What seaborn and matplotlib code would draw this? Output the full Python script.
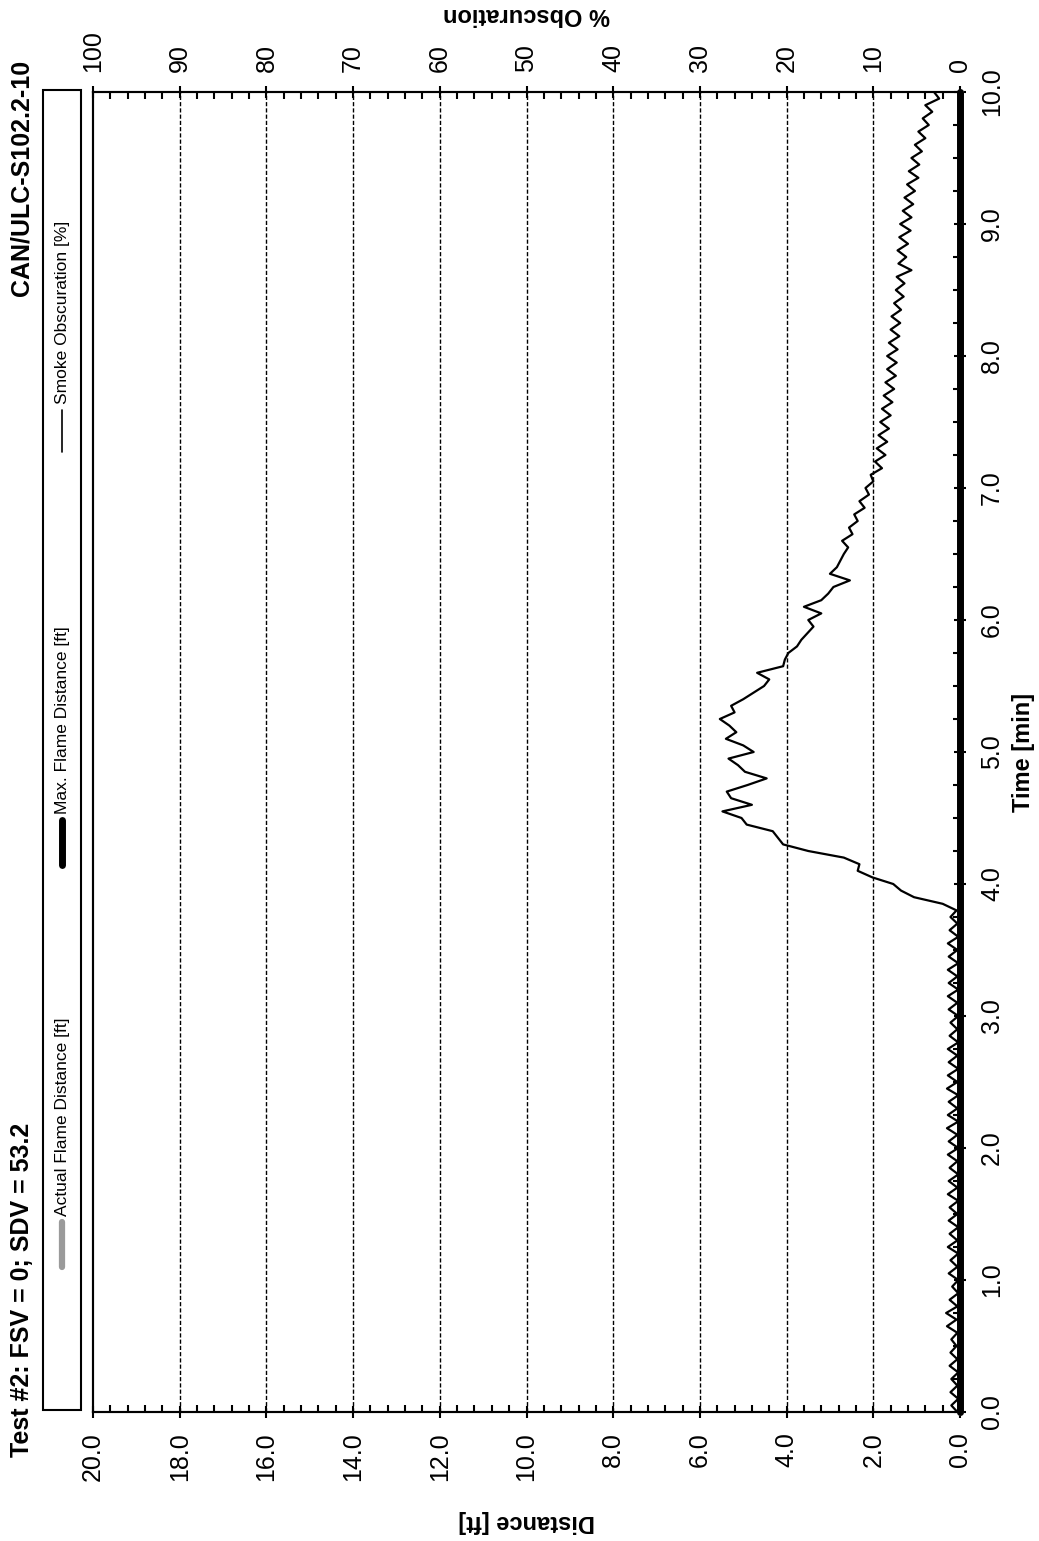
import numpy as np
import pandas as pd
import matplotlib
matplotlib.use("Agg")
import matplotlib.pyplot as plt
import seaborn as sns
from matplotlib.lines import Line2D
from matplotlib.patches import Rectangle
from matplotlib.ticker import MultipleLocator

# Datos: obscuración de humo [%] cada 0.05 min (una lista por minuto)
obsc_min0 = [0.3, 1.0, 0.2, 1.1, 0.3, 1.0, 0.2, 1.2, 0.3, 1.1, 0.4, 1.0, 0.3, 1.5, 0.4, 1.6, 0.3, 1.2, 0.2, 0.9]
obsc_min1 = [0.2, 1.3, 0.3, 1.1, 0.2, 1.4, 0.3, 1.2, 0.2, 1.3, 0.3, 1.2, 0.2, 1.4, 0.3, 1.3, 0.2, 1.2, 0.3, 1.4]
obsc_min2 = [0.2, 1.3, 0.3, 1.5, 0.2, 1.4, 0.3, 1.3, 0.2, 1.5, 0.3, 1.4, 0.2, 1.3, 0.3, 1.4, 0.2, 1.2, 0.3, 1.1]
obsc_min3 = [0.2, 1.3, 0.3, 1.4, 0.2, 1.3, 0.3, 1.4, 0.2, 1.3, 0.3, 1.4, 0.2, 1.2, 0.3, 1.1, 0.4, 2.0, 5.3, 6.8]
obsc_min4 = [7.7, 10.1, 11.8, 11.6, 13.4, 17.5, 20.4, 21.0, 21.6, 24.6, 25.2, 27.4, 24.0, 26.4, 26.9, 24.5, 22.3, 24.8, 25.6, 26.7]
obsc_min5 = [23.8, 25.0, 27.0, 25.8, 26.6, 27.7, 26.0, 26.4, 25.0, 23.8, 22.6, 22.0, 23.4, 20.4, 20.2, 19.8, 18.8, 18.3, 17.6, 16.9]
obsc_min6 = [17.5, 16.0, 18.0, 16.0, 15.2, 14.6, 12.7, 15.0, 14.2, 13.8, 13.4, 12.9, 13.6, 12.4, 12.8, 11.8, 12.2, 11.0, 11.6, 10.5]
obsc_min7 = [10.9, 10.0, 10.3, 9.0, 9.8, 8.6, 9.6, 8.4, 9.4, 8.2, 9.2, 8.0, 9.0, 7.8, 8.8, 7.6, 8.6, 7.4, 8.4, 7.3]
obsc_min8 = [8.4, 7.2, 8.2, 7.0, 8.0, 6.9, 7.9, 6.8, 7.6, 6.5, 7.4, 6.4, 7.3, 5.6, 7.1, 6.2, 7.2, 6.0, 7.0, 5.7]
obsc_min9 = [6.9, 5.6, 6.6, 5.4, 6.4, 5.2, 6.1, 4.8, 5.9, 4.7, 5.6, 4.4, 5.2, 4.0, 4.8, 3.6, 4.3, 3.2, 4.0, 2.4]
obsc_min10 = [3.0]

smoke = (obsc_min0 + obsc_min1 + obsc_min2 + obsc_min3 + obsc_min4 + obsc_min5
         + obsc_min6 + obsc_min7 + obsc_min8 + obsc_min9 + obsc_min10)
time_min = np.round(np.arange(len(smoke)) * 0.05, 2)

# Distancia de llama (constante en 0)
flame_time = [0.0, 10.0]
actual_flame = [0.0, 0.0]
max_flame = [0.0, 0.0]

dist_ticks = [0, 2, 4, 6, 8, 10, 12, 14, 16, 18, 20]
dist_labels = ["0.0", "2.0", "4.0", "6.0", "8.0", "10.0", "12.0", "14.0", "16.0", "18.0", "20.0"]
obsc_ticks = [0, 10, 20, 30, 40, 50, 60, 70, 80, 90, 100]
obsc_labels = ["0", "10", "20", "30", "40", "50", "60", "70", "80", "90", "100"]
time_ticks = [0, 1, 2, 3, 4, 5, 6, 7, 8, 9, 10]
time_labels = ["0.0", "1.0", "2.0", "3.0", "4.0", "5.0", "6.0", "7.0", "8.0", "9.0", "10.0"]

df_smoke = pd.DataFrame({"time": time_min, "obsc": smoke})
df_flame = pd.DataFrame({"time": flame_time, "actual": actual_flame, "max": max_flame})

sns.set_style("white")
plt.rcParams["font.family"] = ["Liberation Sans", "DejaVu Sans"]
plt.rcParams["text.color"] = "black"
plt.rcParams["axes.labelcolor"] = "black"
plt.rcParams["xtick.color"] = "black"
plt.rcParams["ytick.color"] = "black"

W, H = 1039, 1541
fig = plt.figure(figsize=(W / 100, H / 100), dpi=100)
ax = fig.add_axes([93 / W, 1 - 1412 / H, (960 - 93) / W, (1412 - 92) / H])

# Grafico girado: distancia en horizontal (invertida), tiempo en vertical
ax.set_xlim(20, 0)
ax.set_ylim(0, 10)
ax.grid(False)
for d in dist_ticks[1:-1]:
    ax.axvline(d, color="black", lw=1.0, ls=(0, (3, 1.5)), zorder=1)

sns.lineplot(data=df_flame, x="actual", y="time", orient="y", estimator=None, sort=False,
             ax=ax, color="#9a9a9a", lw=5, clip_on=False, zorder=3)
sns.lineplot(data=df_flame, x="max", y="time", orient="y", estimator=None, sort=False,
             ax=ax, color="black", lw=5, clip_on=False, zorder=4)

ax.set_xticks(dist_ticks, labels=dist_labels, rotation=90, fontsize=18)
ax.xaxis.set_minor_locator(MultipleLocator(0.4))
ax.yaxis.tick_right()
ax.set_yticks(time_ticks, labels=time_labels, rotation=90, va="center", fontsize=18)
ax.yaxis.set_minor_locator(MultipleLocator(0.25))
ax.tick_params(which="major", direction="inout", length=9, width=1.5, pad=10,
               bottom=True, right=True, left=False, top=False)
ax.tick_params(which="minor", direction="in", length=5, width=1.5,
               bottom=True, right=True, left=False, top=False)

ax.set_xlabel("Distance [ft]", fontsize=17, fontweight="bold", rotation=180, va="center")
ax.xaxis.set_label_coords(0.5, -0.0833)
ax.yaxis.set_label_position("right")
ax.set_ylabel("Time [min]", fontsize=17, fontweight="bold", rotation=90, va="center", ha="center")
ax.yaxis.set_label_coords(1.0738, 0.5)

ax2 = ax.twiny()
ax2.set_xlim(100, 0)
sns.lineplot(data=df_smoke, x="obsc", y="time", orient="y", estimator=None, sort=False,
             ax=ax2, color="black", lw=1.6)
ax2.set_ylim(0, 10)
ax2.set_xticks(obsc_ticks, labels=obsc_labels, rotation=90, fontsize=18)
ax2.xaxis.set_minor_locator(MultipleLocator(2))
ax2.tick_params(which="major", direction="inout", length=9, width=1.5, pad=10)
ax2.tick_params(which="minor", direction="in", length=5, width=1.5)
ax2.set_xlabel("% Obscuration", fontsize=17, fontweight="bold", rotation=180, va="center", ha="center")
ax2.xaxis.set_label_coords(0.5, 1.059)
ax2.set_ylabel("")

for a in (ax, ax2):
    for s in a.spines.values():
        s.set_linewidth(1.5)
        s.set_color("black")

# Titulos
fig.text(22 / W, 1 - 1457 / H, "Test #2: FSV = 0; SDV = 53.2", rotation=90,
         ha="center", va="bottom", fontsize=18, fontweight="bold")
fig.text(22 / W, 1 - 60 / H, "CAN/ULC-S102.2-10", rotation=90,
         ha="center", va="top", fontsize=18, fontweight="bold")

# Leyenda (girada)
fig.add_artist(Rectangle((43 / W, 1 - 1410 / H), 38 / W, 1320 / H, transform=fig.transFigure,
                         fill=False, lw=1.5, ec="black"))
lx = 62 / W
legend_items = [
    ("Actual Flame Distance [ft]", 1267, 1222, "#9a9a9a", 4.5),
    ("Max. Flame Distance [ft]", 865, 820, "black", 5),
    ("Smoke Obscuration [%]", 452, 410, "black", 1.2),
]
for label, y0, y1, col, lw in legend_items:
    fig.add_artist(Line2D([lx, lx], [1 - y0 / H, 1 - y1 / H], transform=fig.transFigure,
                          color=col, lw=lw, solid_capstyle="round"))
    fig.text(lx, 1 - (y1 - 6) / H, label, rotation=90, ha="center", va="bottom", fontsize=12.5)

fig.savefig("out.png", dpi=100)
